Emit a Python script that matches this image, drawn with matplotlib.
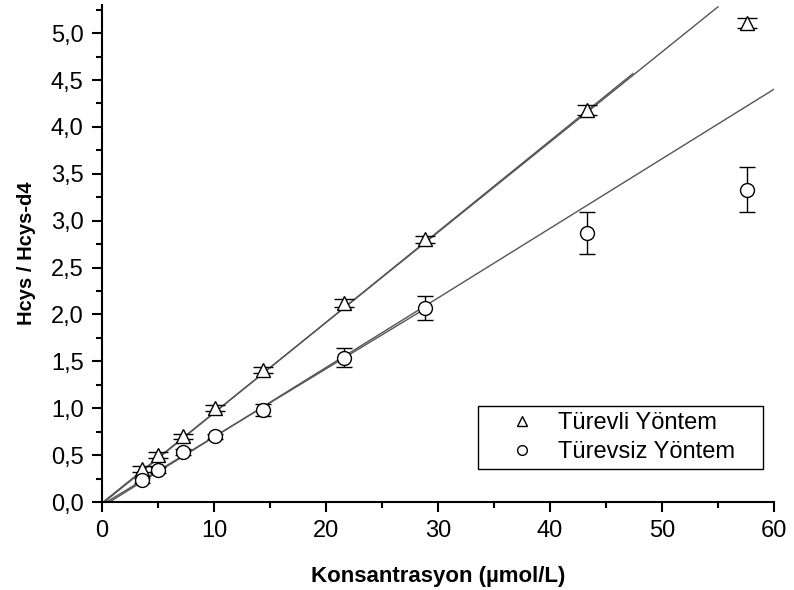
import numpy as np
import matplotlib
matplotlib.use("Agg")
import matplotlib.pyplot as plt
from matplotlib.ticker import MultipleLocator, FuncFormatter
from matplotlib.patches import Rectangle

plt.rcParams['font.family'] = ['Liberation Sans', 'DejaVu Sans']

# Concentrations (µmol/L)
conc = [3.6, 5.0, 7.2, 10.1, 14.4, 21.6, 28.8, 43.3, 57.6]

# Türevli yöntem (derivatized)
turevli = [0.35, 0.50, 0.70, 1.00, 1.41, 2.12, 2.80, 4.18, 5.11]
turevli_err = [0.03, 0.03, 0.03, 0.03, 0.03, 0.04, 0.04, 0.05, 0.05]

# Türevsiz yöntem (underivatized)
turevsiz = [0.23, 0.34, 0.53, 0.70, 0.98, 1.54, 2.07, 2.87, 3.33]
turevsiz_err = [0.03, 0.03, 0.03, 0.03, 0.06, 0.10, 0.13, 0.22, 0.24]

# Linear fits: slope, intercept, x start, x end
fit_slopes = [0.0962, 0.0968, 0.0742, 0.0725]
fit_intercepts = [-0.01, -0.02, -0.05, -0.03]
fit_x0 = [0.1, 0.2, 0.67, 0.4]
fit_x1 = [55.0, 47.4, 60.0, 28.8]

W, H = 794, 590
fig = plt.figure(figsize=(W / 100, H / 100), dpi=100)
ax = fig.add_axes([102 / W, 1 - 502 / H, 672 / W, 497 / H])

for m, b, x0, x1 in zip(fit_slopes, fit_intercepts, fit_x0, fit_x1):
    xs = np.array([x0, x1])
    ax.plot(xs, m * xs + b, color='#555555', lw=1.0, zorder=2)

ax.errorbar(conc, turevli, yerr=turevli_err, fmt='^', ms=10, mfc='white',
            mec='black', mew=1.0, ecolor='black', elinewidth=1.0, capsize=7,
            capthick=1.0, label='Türevli Yöntem', zorder=3)
ax.errorbar(conc, turevsiz, yerr=turevsiz_err, fmt='o', ms=10, mfc='white',
            mec='black', mew=1.0, ecolor='black', elinewidth=1.0, capsize=6,
            capthick=1.0, label='Türevsiz Yöntem', zorder=3)

ax.set_xlim(0, 60)
ax.set_ylim(0, 5.3)
ax.xaxis.set_major_locator(MultipleLocator(10))
ax.xaxis.set_minor_locator(MultipleLocator(5))
ax.yaxis.set_major_locator(MultipleLocator(0.5))
ax.yaxis.set_minor_locator(MultipleLocator(0.25))
ax.yaxis.set_major_formatter(FuncFormatter(lambda v, p: f"{v:.1f}".replace('.', ',')))

for s in ['top', 'right']:
    ax.spines[s].set_visible(False)
for s in ['left', 'bottom']:
    ax.spines[s].set_linewidth(1.5)

ax.tick_params(which='major', direction='out', length=7.2, width=1.5,
               labelsize=17, pad=6)
ax.tick_params(which='minor', direction='out', length=4.5, width=1.5)

ax.set_xlabel('Konsantrasyon (µmol/L)', fontsize=16, fontweight='bold', labelpad=17)
ax.set_ylabel('Hcys / Hcys-d4', fontsize=14.5, fontweight='bold', labelpad=11)

# Legend box drawn in pixel-based axes fractions, entries placed inside it
box_x0, box_x1 = (478 - 102) / 672, (763 - 102) / 672
box_y0, box_y1 = (502 - 469) / 497, (502 - 406) / 497
ax.add_patch(Rectangle((box_x0, box_y0), box_x1 - box_x0, box_y1 - box_y0,
                       transform=ax.transAxes, fill=True, facecolor='white',
                       edgecolor='black', lw=1.0, zorder=4))

handles, labels = ax.get_legend_handles_labels()
handles = [h[0] for h in handles]
leg = ax.legend(handles, labels, loc='center left',
                bbox_to_anchor=((505 - 102) / 672, (box_y0 + box_y1) / 2),
                fontsize=17, frameon=False, handletextpad=0.85,
                markerscale=0.7, borderpad=0, labelspacing=0.3,
                handlelength=1.4, borderaxespad=0)
leg.set_zorder(5)

fig.savefig('out.png', dpi=100)
